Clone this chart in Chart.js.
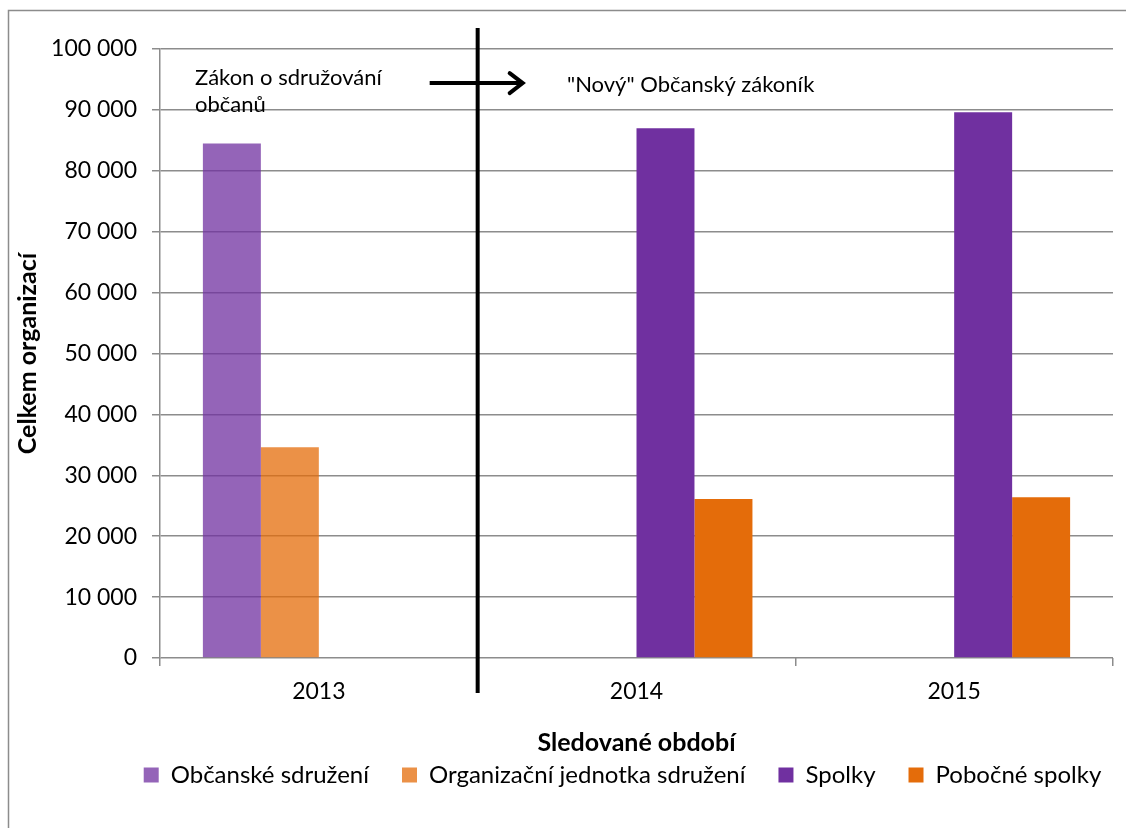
<!DOCTYPE html>
<html>
<head>
<meta charset="utf-8">
<script src="https://cdn.jsdelivr.net/npm/chart.js@4.4.1/dist/chart.umd.min.js"></script>
<style>
  html, body { margin: 0; padding: 0; background: #fff; }
  #wrap { position: relative; width: 1126px; height: 828px; }
</style>
</head>
<body>
<div id="wrap"><canvas id="chart" width="1126" height="828"></canvas></div>
<script>
// data
var years = ['2013', '2014', '2015'];
var obcanskeSdruzeni = [84500, null, null];
var organizacniJednotka = [34600, null, null];
var spolky = [null, 87000, 89600];
var pobocneSpolky = [null, 26100, 26400];

var seriesNames = ['Občanské sdružení', 'Organizační jednotka sdružení', 'Spolky', 'Pobočné spolky'];
var seriesColors = ['rgba(112,48,160,0.75)', 'rgba(228,108,10,0.75)', '#7030a0', '#e46c0a'];

var yTicks = [0, 10000, 20000, 30000, 40000, 50000, 60000, 70000, 80000, 90000, 100000];

var fontName = 'Lato, "Open Sans", sans-serif';

function fmt(v) {
  return String(v).replace(/\B(?=(\d{3})+(?!\d))/g, ' ');
}

// border, divider line, arrow and notes
var extras = {
  id: 'extras',
  afterLayout: function (chart) {
    // legend sits a bit right of the canvas centre in the original
    chart.legend.left += 62;
    chart.legend.right += 62;
  },
  beforeDraw: function (chart) {
    var c = chart.ctx;
    c.save();
    c.fillStyle = '#fff';
    c.fillRect(0, 0, chart.width, chart.height);
    c.strokeStyle = '#8c8c8c';
    c.lineWidth = 1.5;
    c.beginPath();
    c.moveTo(8.5, chart.height);
    c.lineTo(8.5, 10.5);
    c.lineTo(chart.width, 10.5);
    c.stroke();
    c.restore();
  },
  afterDraw: function (chart) {
    var c = chart.ctx;
    var x = chart.scales.x, y = chart.scales.y;
    var divX = (x.getPixelForValue(0) + x.getPixelForValue(1)) / 2;
    c.save();
    c.strokeStyle = '#000';
    c.lineWidth = 4;
    c.beginPath();
    c.moveTo(divX, 28);
    c.lineTo(divX, 693);
    c.stroke();

    // arrow
    var ay = y.getPixelForValue(94400);
    c.beginPath();
    c.moveTo(divX - 48, ay);
    c.lineTo(divX + 45, ay);
    c.stroke();
    c.beginPath();
    c.moveTo(divX + 32, ay - 10);
    c.lineTo(divX + 45, ay);
    c.lineTo(divX + 32, ay + 10);
    c.lineCap = 'round';
    c.stroke();

    c.fillStyle = '#000';
    c.font = '22px ' + fontName;
    c.textBaseline = 'middle';
    c.textAlign = 'left';
    c.fillText('Zákon o sdružování', 195, y.getPixelForValue(95200));
    c.fillText('občanů', 195, y.getPixelForValue(90800));
    c.fillText('"Nový" Občanský zákoník', 567, y.getPixelForValue(94100));
    c.restore();
  }
};

var datasets = [obcanskeSdruzeni, organizacniJednotka, spolky, pobocneSpolky].map(function (d, i) {
  return {
    label: seriesNames[i],
    data: d,
    backgroundColor: seriesColors[i],
    borderWidth: 0,
    barPercentage: 1,
    categoryPercentage: 0.73
  };
});

new Chart(document.getElementById('chart'), {
  type: 'bar',
  data: { labels: years, datasets: datasets },
  options: {
    responsive: false,
    animation: false,
    layout: { padding: { left: 8, right: 13, top: 49, bottom: 31 } },
    plugins: {
      tooltip: { enabled: false },
      legend: {
        position: 'bottom',
        labels: {
          boxWidth: 15,
          boxHeight: 15,
          padding: 33,
          color: '#000',
          font: { family: fontName, size: 24 }
        }
      }
    },
    scales: {
      x: {
        grid: { drawOnChartArea: false, offset: true, tickLength: 8, color: '#8c8c8c', lineWidth: 1.5 },
        border: { display: false },
        ticks: { color: '#000', padding: 12, font: { family: fontName, size: 23 } },
        title: {
          display: true,
          text: 'Sledované období',
          color: '#000',
          padding: { top: 0, bottom: -28 },
          font: { family: fontName, size: 25, weight: 'bold' }
        },
        afterFit: function (s) { s.height = 72; }
      },
      y: {
        min: 0,
        max: 100000,
        afterBuildTicks: function (s) {
          s.ticks = yTicks.map(function (v) { return { value: v }; });
        },
        grid: { color: '#8c8c8c', lineWidth: 1.5, tickLength: 8 },
        border: { color: '#8c8c8c', width: 1.5 },
        ticks: {
          color: '#000',
          padding: 15,
          font: { family: fontName, size: 23 },
          callback: function (v) { return fmt(v); }
        },
        title: {
          display: true,
          text: 'Celkem organizací',
          color: '#000',
          padding: { top: 5, bottom: 0 },
          font: { family: fontName, size: 25, weight: 'bold' }
        },
        afterFit: function (s) { s.width = 152; }
      }
    }
  },
  plugins: [extras]
});
</script>
</body>
</html>
